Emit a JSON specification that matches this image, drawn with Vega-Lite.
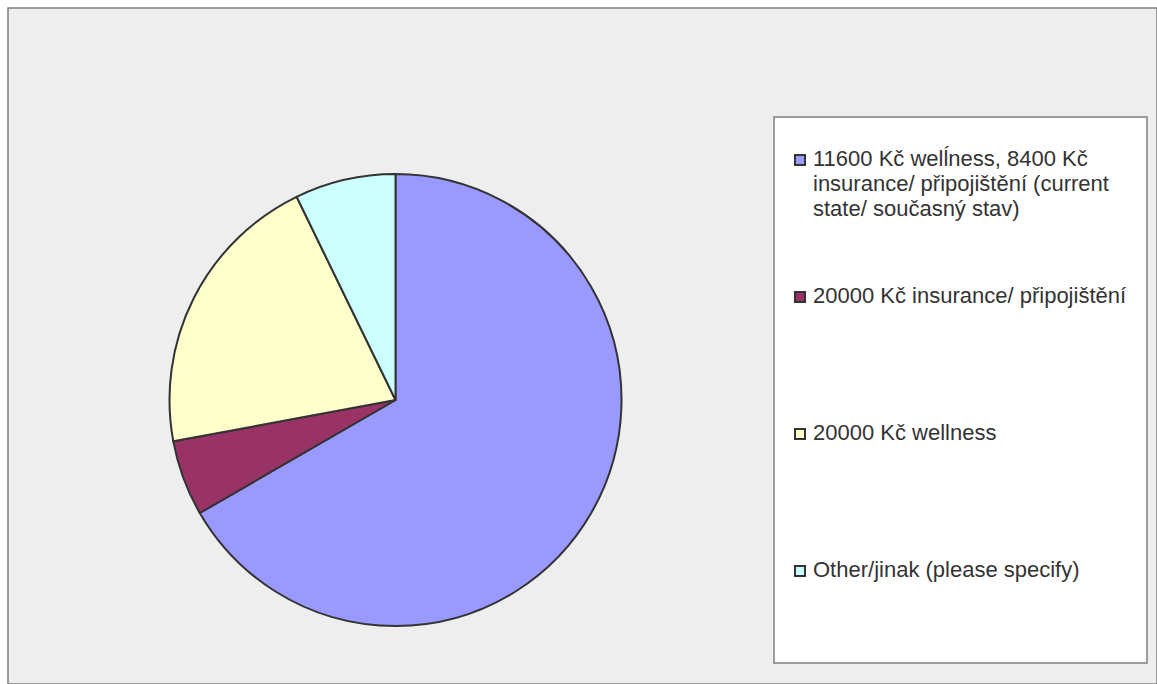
{
  "$schema": "https://vega.github.io/schema/vega-lite/v6.json",
  "width": 1149,
  "height": 676,
  "autosize": {"type": "none"},
  "padding": {"left": 8, "top": 8, "right": 0, "bottom": 0},
  "background": "white",
  "view": {"fill": "#eeeeee", "stroke": "#808080", "strokeWidth": 1.5},
  "data": {
    "values": [
      {"option": "11600 Kč welĺness, 8400 Kč insurance/ připojištění (current state/ současný stav)", "count": 74},
      {"option": "20000 Kč insurance/ připojištění", "count": 6},
      {"option": "20000 Kč wellness", "count": 23},
      {"option": "Other/jinak (please specify)", "count": 8}
    ]
  },
  "mark": {
    "type": "arc",
    "outerRadius": 226,
    "stroke": "#333333",
    "strokeWidth": 2,
    "xOffset": -187,
    "yOffset": 54
  },
  "encoding": {
    "theta": {"field": "count", "type": "quantitative", "stack": true},
    "color": {
      "field": "option",
      "type": "nominal",
      "scale": {
        "domain": [
          "11600 Kč welĺness, 8400 Kč insurance/ připojištění (current state/ současný stav)",
          "20000 Kč insurance/ připojištění",
          "20000 Kč wellness",
          "Other/jinak (please specify)"
        ],
        "range": ["#9999ff", "#993366", "#ffffcc", "#ccffff"]
      },
      "legend": {
        "title": " ",
        "titleOrient": "bottom",
        "titleFontSize": 9,
        "titlePadding": 40,
        "orient": "none",
        "legendX": 766,
        "legendY": 109,
        "direction": "vertical",
        "fillColor": "#ffffff",
        "strokeColor": "#808080",
        "padding": 20,
        "symbolType": "square",
        "symbolSize": 100,
        "symbolOffset": -5,
        "symbolStrokeColor": "#333333",
        "symbolStrokeWidth": 2,
        "symbolOpacity": 1,
        "labelFont": "Liberation Sans",
        "labelFontSize": 22,
        "labelColor": "#333333",
        "labelLimit": 0,
        "labelOffset": 2,
        "labelBaseline": "top",
        "clipHeight": 46,
        "rowPadding": 54,
        "gridAlign": "all",
        "labelExpr": "indexof(datum.label, '11600') == 0 ? ['11600 Kč welĺness, 8400 Kč', 'insurance/ připojištění (current', 'state/ současný stav)'] : datum.label",
        "encode": {
          "labels": {"update": {"dy": {"value": -11}, "lineHeight": {"value": 25}}},
          "legend": {"update": {"strokeWidth": {"value": 1.5}}}
        }
      }
    }
  }
}
